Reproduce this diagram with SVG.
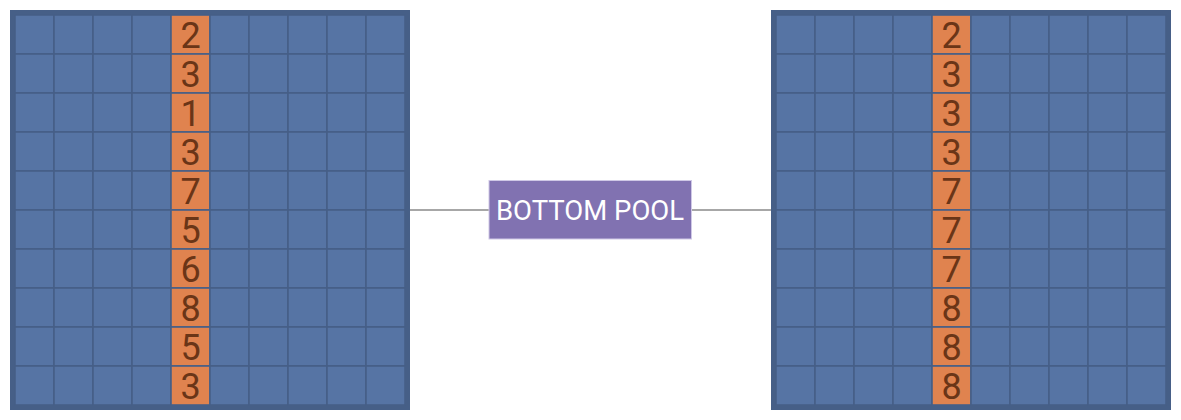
<svg xmlns="http://www.w3.org/2000/svg" width="1181" height="420" viewBox="0 0 1181 420">
<style>
.frame{fill:#465f87}
.c{fill:#5674a4;stroke:#465f87;stroke-width:1.6}
.o{fill:#e0834f;stroke:#465f87;stroke-width:1.6}
.d{font-family:Roboto,"Liberation Sans",sans-serif;font-size:36px;fill:#6a3517;text-anchor:middle}
.lbl{font-family:Roboto,"Liberation Sans",sans-serif;font-size:27.5px;fill:#ffffff;text-anchor:middle}
.conn{stroke:#8a8a8a;stroke-width:1.6;fill:none}
</style>
<defs>
<g id="row">
<rect class="c" x="15" y="0" width="39" height="39"/>
<rect class="c" x="54" y="0" width="39" height="39"/>
<rect class="c" x="93" y="0" width="39" height="39"/>
<rect class="c" x="132" y="0" width="39" height="39"/>
<rect class="o" x="171" y="0" width="39" height="39"/>
<rect class="c" x="210" y="0" width="39" height="39"/>
<rect class="c" x="249" y="0" width="39" height="39"/>
<rect class="c" x="288" y="0" width="39" height="39"/>
<rect class="c" x="327" y="0" width="39" height="39"/>
<rect class="c" x="366" y="0" width="39" height="39"/>
</g>
<g id="grid">
<rect class="frame" x="10" y="10" width="400" height="400"/>
<use href="#row" y="15"/>
<use href="#row" y="54"/>
<use href="#row" y="93"/>
<use href="#row" y="132"/>
<use href="#row" y="171"/>
<use href="#row" y="210"/>
<use href="#row" y="249"/>
<use href="#row" y="288"/>
<use href="#row" y="327"/>
<use href="#row" y="366"/>
</g>
</defs>
<g id="connectors">
<line class="conn" x1="410" y1="210" x2="489" y2="210"/>
<line class="conn" x1="692" y1="210" x2="771" y2="210"/>
</g>
<g id="left-array">
<use href="#grid"/>
<text class="d" x="190.5" y="47.5">2</text>
<text class="d" x="190.5" y="86.5">3</text>
<text class="d" x="190.5" y="125.5">1</text>
<text class="d" x="190.5" y="164.5">3</text>
<text class="d" x="190.5" y="203.5">7</text>
<text class="d" x="190.5" y="242.5">5</text>
<text class="d" x="190.5" y="281.5">6</text>
<text class="d" x="190.5" y="320.5">8</text>
<text class="d" x="190.5" y="359.5">5</text>
<text class="d" x="190.5" y="398.5">3</text>
</g>
<g id="bottom-pool">
<rect x="489" y="180.5" width="202.5" height="58.5" fill="#8172b1" stroke="#cfc8e6" stroke-width="1"/>
<text class="lbl" x="590" y="219.5">BOTTOM POOL</text>
</g>
<g id="right-array" transform="translate(761,0)">
<use href="#grid"/>
<text class="d" x="190.5" y="47.5">2</text>
<text class="d" x="190.5" y="86.5">3</text>
<text class="d" x="190.5" y="125.5">3</text>
<text class="d" x="190.5" y="164.5">3</text>
<text class="d" x="190.5" y="203.5">7</text>
<text class="d" x="190.5" y="242.5">7</text>
<text class="d" x="190.5" y="281.5">7</text>
<text class="d" x="190.5" y="320.5">8</text>
<text class="d" x="190.5" y="359.5">8</text>
<text class="d" x="190.5" y="398.5">8</text>
</g>
</svg>
